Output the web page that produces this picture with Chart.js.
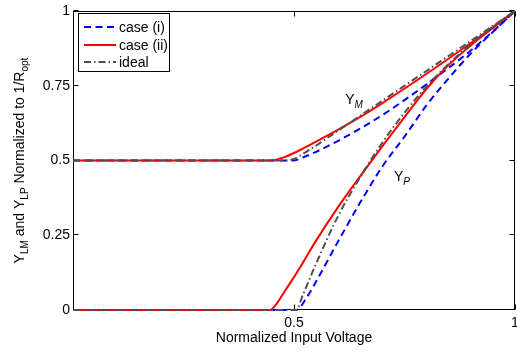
<!DOCTYPE html>
<html><head><meta charset="utf-8">
<script src="https://cdn.jsdelivr.net/npm/chart.js@4/dist/chart.umd.min.js"></script>
<style>html,body{margin:0;padding:0;background:#fff;}#wrap{width:517px;height:352px;}</style>
</head><body><div id="wrap"><canvas id="c"></canvas></div>
<script>
// ---- data ----
const xTickValues = [0.5, 1];
const yTickValues = [0, 0.25, 0.5, 0.75, 1];
const seriesLabels = ['case (i)', 'case (ii)', 'ideal'];
const xAxisTitle = 'Normalized Input Voltage';

// case (i): Y_M and Y_P
const case1MX = [0, 0.50, 0.52, 0.55, 0.60, 0.65, 0.70, 0.75, 0.80, 0.85, 0.90, 0.95, 1.00];
const case1MY = [0.5, 0.50, 0.51, 0.529, 0.566, 0.607, 0.652, 0.702, 0.755, 0.81, 0.868, 0.932, 1.00];
const case1PX = [0, 0.505, 0.53, 0.55, 0.60, 0.65, 0.70, 0.75, 0.80, 0.85, 0.90, 0.95, 1.00];
const case1PY = [0, 0, 0.045, 0.095, 0.23, 0.36, 0.48, 0.58, 0.685, 0.775, 0.858, 0.93, 1.00];
// case (ii): Y_M and Y_P
const case2MX = [0, 0.445, 0.46, 0.48, 0.50, 0.52, 0.55, 0.60, 0.65, 0.70, 0.80, 0.90, 1.00];
const case2MY = [0.5, 0.5, 0.503, 0.512, 0.525, 0.54, 0.563, 0.603, 0.646, 0.692, 0.79, 0.893, 1.00];
const case2PX = [0, 0.446, 0.46, 0.48, 0.50, 0.52, 0.55, 0.60, 0.65, 0.70, 0.75, 0.80, 0.85, 0.90, 0.95, 1.00];
const case2PY = [0, 0, 0.02, 0.065, 0.11, 0.158, 0.232, 0.345, 0.448, 0.548, 0.645, 0.74, 0.82, 0.885, 0.943, 1.00];
// ideal: Y_M and Y_P
const idealMX = [0, 0.48, 0.50, 0.52, 0.55, 0.60, 0.70, 0.80, 0.90, 1.00];
const idealMY = [0.5, 0.5, 0.505, 0.522, 0.55, 0.60, 0.70, 0.80, 0.90, 1.00];
const idealPX = [0, 0.505, 0.52, 0.55, 0.60, 0.65, 0.70, 0.75, 0.80, 0.85, 0.90, 0.95, 1.00];
const idealPY = [0, 0, 0.05, 0.155, 0.315, 0.445, 0.56, 0.66, 0.748, 0.823, 0.889, 0.947, 1.00];

const curveLabelM = {main: 'Y', sub: 'M', x: 0.616, y: 0.69};
const curveLabelP = {main: 'Y', sub: 'P', x: 0.726, y: 0.43};

function pts(xs, ys) { return xs.map((x, i) => ({x: x, y: ys[i]})); }

const FONT = '"Liberation Sans", Arial, Helvetica, sans-serif';
Chart.defaults.font.family = FONT;
Chart.defaults.font.size = 14;
Chart.defaults.color = '#000';

const styles = [
  {color: '#0000ff', dash: [7, 4.5], order: 3},
  {color: '#ff0000', dash: [], order: 2},
  {color: '#505050', dash: [7, 3, 1.5, 3], order: 1}
];

function ds(label, xs, ys, si) {
  const s = styles[si];
  return {
    label: label, data: pts(xs, ys), borderColor: s.color, borderDash: s.dash,
    borderWidth: 2, pointRadius: 0, fill: false, cubicInterpolationMode: 'monotone',
    order: s.order, clip: false
  };
}

const datasets = [
  ds(seriesLabels[0], case1MX, case1MY, 0),
  ds(seriesLabels[0], case1PX, case1PY, 0),
  ds(seriesLabels[1], case2MX, case2MY, 1),
  ds(seriesLabels[1], case2PX, case2PY, 1),
  ds(seriesLabels[2], idealMX, idealMY, 2),
  ds(seriesLabels[2], idealPX, idealPY, 2)
];

function drawRich(ctx, parts, x, y, align) {
  const widths = parts.map(p => { ctx.font = (p.italic ? 'italic ' : '') + (p.sub ? '10px ' : '14px ') + FONT; return ctx.measureText(p.t).width; });
  const total = widths.reduce((a, b) => a + b, 0);
  let cx = align === 'center' ? x - total / 2 : x;
  parts.forEach((p, i) => {
    ctx.font = (p.italic ? 'italic ' : '') + (p.sub ? '10px ' : '14px ') + FONT;
    ctx.fillText(p.t, cx, y + (p.sub ? 4 : 0));
    cx += widths[i];
  });
}

function frameBox(chart) {
  const a = chart.chartArea;
  return {L: Math.round(a.left) + 0.5, R: Math.round(a.right) - 0.5,
          T: Math.round(a.top) + 0.5, B: Math.round(a.bottom) - 0.5};
}

const framePlugin = {
  id: 'frame',
  beforeDatasetsDraw(chart) {
    const ctx = chart.ctx;
    const xs = chart.scales.x, ys = chart.scales.y;
    const {L, R, T, B} = frameBox(chart);
    ctx.save();
    ctx.strokeStyle = '#000';
    ctx.lineWidth = 1;
    ctx.setLineDash([]);
    ctx.strokeRect(L, T, R - L, B - T);
    ctx.beginPath();
    ys.ticks.forEach(t => {
      const py = Math.round(ys.getPixelForValue(t.value)) - 0.5;
      ctx.moveTo(L, py); ctx.lineTo(L + 5, py);
      ctx.moveTo(R, py); ctx.lineTo(R - 5, py);
    });
    xs.ticks.forEach(t => {
      const px = Math.round(xs.getPixelForValue(t.value)) + 0.5;
      ctx.moveTo(px, B); ctx.lineTo(px, B - 5);
      ctx.moveTo(px, T); ctx.lineTo(px, T + 5);
    });
    ctx.stroke();
    ctx.restore();
  },
  afterDatasetsDraw(chart) {
    const ctx = chart.ctx;
    const a = chart.chartArea;
    const xs = chart.scales.x, ys = chart.scales.y;
    ctx.save();
    // legend
    const lx = 78.5, ly = 13.5, lw = 91, lh = 58;
    ctx.fillStyle = '#fff';
    ctx.fillRect(lx, ly, lw, lh);
    ctx.strokeStyle = '#000'; ctx.lineWidth = 1; ctx.setLineDash([]);
    ctx.strokeRect(lx, ly, lw, lh);
    const rows = [27, 45, 62];
    seriesLabels.forEach((lab, i) => {
      const s = styles[i];
      ctx.strokeStyle = s.color; ctx.lineWidth = 2; ctx.setLineDash(s.dash);
      ctx.beginPath(); ctx.moveTo(84, rows[i]); ctx.lineTo(116, rows[i]); ctx.stroke();
      ctx.setLineDash([]);
      ctx.fillStyle = '#000'; ctx.font = '14px ' + FONT;
      ctx.textAlign = 'left'; ctx.textBaseline = 'middle';
      ctx.fillText(lab, 119, rows[i] + 1);
    });

    // curve labels
    ctx.fillStyle = '#000'; ctx.textBaseline = 'alphabetic'; ctx.textAlign = 'left';
    [curveLabelM, curveLabelP].forEach(cl => {
      const px = xs.getPixelForValue(cl.x), py = ys.getPixelForValue(cl.y);
      drawRich(ctx, [{t: cl.main}, {t: cl.sub, sub: true, italic: true}], px, py, 'left');
    });

    // y axis title (rotated, with subscripts)
    ctx.translate(24, (a.top + a.bottom) / 2);
    ctx.rotate(-Math.PI / 2);
    drawRich(ctx, [{t: 'Y'}, {t: 'LM', sub: true}, {t: ' and Y'}, {t: 'LP', sub: true},
                   {t: ' Normalized to 1/R'}, {t: 'opt', sub: true}], 0, 0, 'center');
    ctx.restore();
  }
};

new Chart(document.getElementById('c'), {
  type: 'line',
  data: {datasets: datasets},
  options: {
    responsive: true, maintainAspectRatio: false, animation: false,
    layout: {padding: {left: 0, right: 2, top: 11, bottom: 0}},
    plugins: {legend: {display: false}, tooltip: {enabled: false}},
    elements: {line: {borderCapStyle: 'butt'}},
    scales: {
      x: {
        type: 'linear', min: 0, max: 1,
        grid: {display: false, drawTicks: false}, border: {display: false},
        afterBuildTicks: s => { s.ticks = xTickValues.map(v => ({value: v})); },
        ticks: {padding: 5, maxRotation: 0, autoSkip: false, callback: v => String(v)},
        title: {display: true, text: xAxisTitle, padding: {top: 0, bottom: 5}},
        afterFit: s => { s.height = 42; s.paddingLeft = 0; s.paddingRight = 0; s.paddingTop = 0; s.paddingBottom = 0; }
      },
      y: {
        type: 'linear', min: 0, max: 1,
        grid: {display: false, drawTicks: false}, border: {display: false},
        afterBuildTicks: s => { s.ticks = yTickValues.map(v => ({value: v})); },
        ticks: {padding: 3, callback: v => String(v)},
        afterFit: s => { s.width = 73; s.paddingLeft = 0; s.paddingRight = 0; s.paddingTop = 0; s.paddingBottom = 0; }
      }
    }
  },
  plugins: [framePlugin]
});
</script></body></html>
